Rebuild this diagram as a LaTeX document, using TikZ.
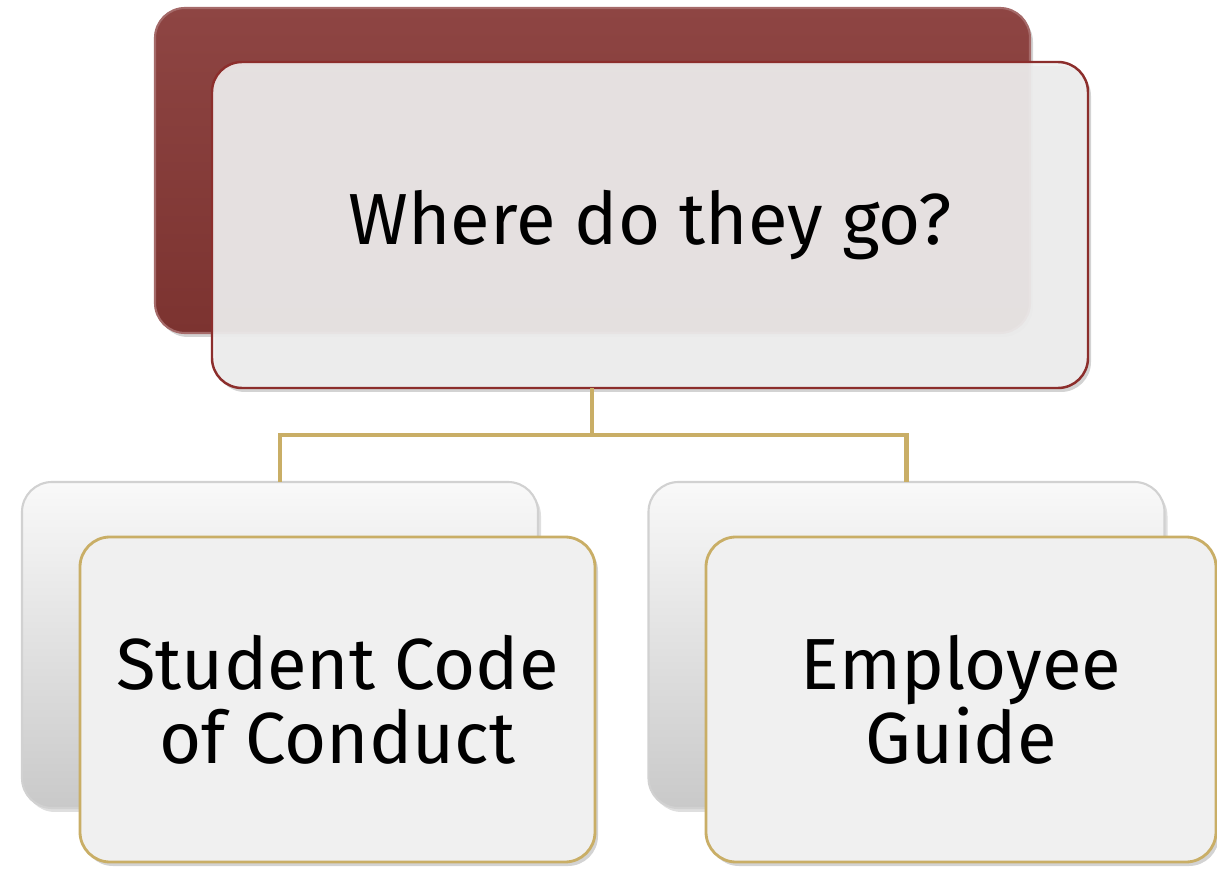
\documentclass[tikz,border=0pt]{standalone}
\usepackage{fontspec}
\setmainfont{Fira Sans}
\usepackage{tikz}
\usetikzlibrary{shadows}
\definecolor{maroonTop}{HTML}{8E4543}
\definecolor{maroonBot}{HTML}{7C3330}
\definecolor{maroonLine}{HTML}{8C2E2C}
\definecolor{goldLine}{HTML}{C9AE66}
\definecolor{paleFill}{HTML}{F0F0F0}
\definecolor{greyTop}{HTML}{F9F9F9}
\definecolor{greyBot}{HTML}{C9C9C9}
\tikzstyle{backRed} = [rectangle, rounded corners=0.3cm, minimum width=8.75cm, minimum height=3.25cm, inner sep=0pt, outer sep=0pt, draw=maroonTop!80!white, line width=0.6pt, top color=maroonTop, bottom color=maroonBot, drop shadow={opacity=0.35, shadow xshift=0.03cm, shadow yshift=-0.04cm}]
\tikzstyle{frontTop} = [rectangle, rounded corners=0.3cm, minimum width=8.76cm, minimum height=3.26cm, inner sep=0pt, outer sep=0pt, draw=maroonLine, line width=0.7pt, fill=paleFill, fill opacity=0.9, text opacity=1, align=center, font=\boxfont, drop shadow={opacity=0.35, shadow xshift=0.03cm, shadow yshift=-0.04cm}]
\tikzstyle{backGrey} = [rectangle, rounded corners=0.3cm, minimum width=5.16cm, minimum height=3.26cm, inner sep=0pt, outer sep=0pt, draw=black!18, line width=0.6pt, top color=greyTop, bottom color=greyBot, drop shadow={opacity=0.25, shadow xshift=0.03cm, shadow yshift=-0.04cm}]
\tikzstyle{frontGold} = [rectangle, rounded corners=0.3cm, minimum width=5.15cm, minimum height=3.25cm, inner sep=0pt, outer sep=0pt, draw=goldLine, line width=0.8pt, fill=paleFill, align=center, font=\boxfont, drop shadow={opacity=0.35, shadow xshift=0.03cm, shadow yshift=-0.04cm}]
\tikzstyle{link} = [goldLine, line width=1.2pt]
\newcommand{\boxfont}{\fontsize{20.6}{21}\selectfont}

\begin{document}
\begin{tikzpicture}
	\useasboundingbox (0,0) rectangle (12.17,8.68);
	
	\node (whereBack) [backRed] at (5.925,6.975) {};
	\node (where) [frontTop] at (6.50,6.43) {Where do they go?};
	
	\node (studentBack) [backGrey] at (2.80,2.23) {};
	\node (student) [frontGold] at (3.375,1.685) {Student Code\\of Conduct};
	\node (employeeBack) [backGrey] at (9.065,2.23) {};
	\node (employee) [frontGold, minimum width=5.10cm] at (9.61,1.685) {Employee\\Guide};
	
	\coordinate (split) at (5.92,4.33);
	\draw [link] (where.south -| split) -- (split);
	\draw [link] (split) -| (studentBack.north);
	\draw [link] (split) -| (employeeBack.north);
\end{tikzpicture}
\end{document}
